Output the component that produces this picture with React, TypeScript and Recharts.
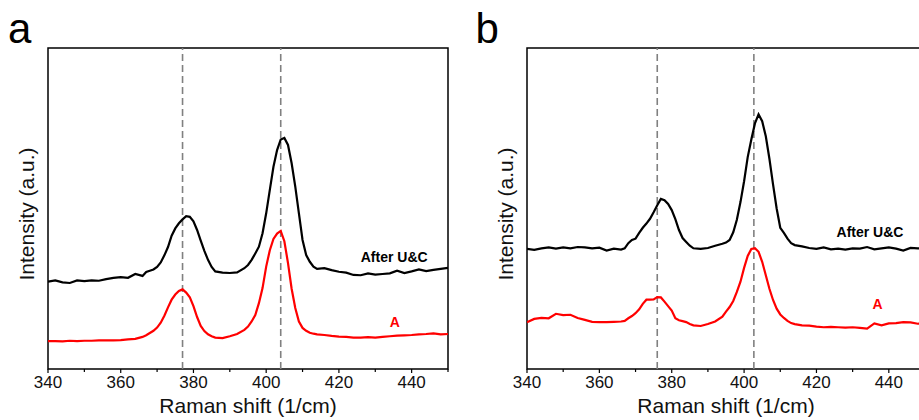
import React from 'react'
import { LineChart, Line, XAxis, YAxis, ReferenceLine, ReferenceArea, ReferenceDot } from 'recharts'

// Raman shift grid shared by both panels (1/cm)
const shift = [
  340, 342, 344, 346, 348, 350, 352, 354, 356, 358, 360, 362, 364, 366,
  367, 368, 369, 370, 371, 372, 373, 374, 375, 376, 377, 378, 379, 380, 381, 382, 383, 384, 385, 386,
  388, 390, 392, 394,
  395, 396, 397, 398, 399, 400, 401, 402, 403, 404, 405, 406, 407, 408, 409, 410, 411, 412, 413, 414,
  416, 418, 420, 422, 424, 426, 428, 430, 432, 434, 436, 438, 440, 442, 444, 446, 448, 450,
]

// panel a
const aAfter = [
  27.2, 27.6, 27.0, 26.8, 27.6, 27.4, 27.6, 27.5, 28.0, 28.4, 28.6, 28.4, 29.6, 29.0,
  30.2, 30.6, 31.0, 31.8, 33.2, 35.4, 38.0, 41.5, 43.8, 45.4, 46.6, 47.6, 47.4, 46.0, 43.3, 40.0, 36.8, 34.0, 31.8, 30.4,
  30.0, 29.9, 30.1, 31.4,
  32.4, 34.0, 36.0, 38.1, 42.3, 48.5, 55.8, 63.0, 68.2, 71.5, 72.0, 69.8, 64.1, 56.8, 48.5, 40.2, 35.5, 33.4, 31.9, 31.2,
  31.4, 30.8, 30.3, 30.0, 29.3, 29.2, 29.8, 29.4, 29.6, 29.8, 30.6, 29.9, 30.4, 31.0, 30.5, 30.9, 31.2, 31.5,
]
const aPristine = [
  8.7, 8.7, 8.6, 8.8, 8.7, 8.8, 8.8, 8.9, 8.9, 8.9, 9.0, 9.2, 9.4, 10.0,
  10.5, 11.2, 11.9, 12.9, 14.4, 16.6, 19.2, 21.6, 23.2, 24.3, 24.8, 23.8, 22.3, 19.6, 16.2, 13.4, 11.8, 10.8, 10.2, 9.8,
  9.6, 10.2, 10.9, 12.2,
  13.2, 14.8, 16.8, 20.5, 25.2, 31.9, 37.0, 40.5, 42.2, 43.0, 39.8, 33.0, 25.0, 19.0, 14.8, 12.8, 11.9, 11.3, 11.0, 10.8,
  10.6, 10.3, 10.1, 10.0, 9.8, 9.8, 9.9, 9.8, 10.0, 10.2, 10.4, 10.5, 10.6, 10.8, 10.9, 11.1, 10.8, 10.9,
]

// panel b
const bAfter = [
  37.4, 37.1, 37.6, 37.9, 37.5, 37.9, 37.6, 38.0, 37.9, 37.6, 37.8, 36.9, 37.5, 37.2,
  37.6, 39.2, 40.2, 40.6, 42.4, 44.0, 45.3, 46.8, 48.8, 51.0, 53.0, 52.6, 51.4, 49.5, 46.7, 43.3, 40.8, 39.6, 38.4, 37.6,
  37.4, 37.7, 38.4, 39.0,
  39.4, 40.2, 42.6, 46.5, 52.0, 58.5, 66.0, 71.5, 76.5, 79.3, 77.2, 72.5, 65.5, 57.5, 50.0, 44.0, 42.4, 40.6, 39.2, 38.6,
  38.2, 37.7, 37.4, 37.9, 37.3, 37.5, 37.2, 37.6, 37.5, 38.0, 37.3, 37.6, 37.9, 37.5, 36.9, 37.7, 37.6, 37.6,
]
const bPristine = [
  14.6, 15.6, 15.9, 15.8, 17.2, 16.8, 16.9, 15.9, 15.3, 14.7, 14.6, 14.6, 14.7, 14.8,
  15.0, 15.8, 16.5, 17.4, 18.6, 20.3, 21.6, 21.6, 21.7, 22.4, 22.3, 21.0, 19.6, 18.2, 15.8, 15.2, 14.9, 14.6, 14.0, 13.6,
  13.4, 14.0, 14.8, 16.3,
  17.9, 19.3, 21.2, 24.0, 27.2, 31.5, 35.2, 37.4, 37.6, 36.5, 33.4, 29.2, 25.0, 21.5, 18.8, 17.0, 15.9, 15.0, 14.3, 14.0,
  13.6, 13.5, 13.2, 13.0, 13.1, 13.0, 12.9, 13.0, 12.8, 12.6, 14.2, 13.6, 14.2, 14.3, 14.6, 14.5, 14.1, 14.3,
]

const xTicks = [340, 350, 360, 370, 380, 390, 400, 410, 420, 430, 440, 450]
const peaksA = [377, 404]
const peaksB = [376, 402.7]

const FONT = '"Liberation Sans", Arial, sans-serif'

function XTick(props: any) {
  const { x, y, payload } = props
  const v = payload.value
  const major = v % 20 === 0
  return (
    <g>
      <line x1={x} x2={x} y1={y} y2={y + (major ? 4 : 3)} stroke="#000" strokeWidth={1.2} />
      {major && v < 450 && (
        <text x={x} y={y + 19} textAnchor="middle" fontSize={17} fill="#111" fontFamily={FONT}>
          {v}
        </text>
      )}
    </g>
  )
}

function XTitle(props: any) {
  const vb = props.viewBox
  return (
    <text x={vb.x + vb.width / 2} y={vb.y + 44} textAnchor="middle" fontSize={21} fill="#111" fontFamily={FONT}>
      Raman shift (1/cm)
    </text>
  )
}

function YTitle(props: any) {
  const vb = props.viewBox
  const cx = vb.x + 26
  const cy = vb.y + vb.height / 2 + 5.5
  return (
    <text
      x={cx}
      y={cy}
      transform={`rotate(-90 ${cx} ${cy})`}
      textAnchor="middle"
      dominantBaseline="central"
      fontSize={21}
      fill="#111"
      fontFamily={FONT}
    >
      Intensity (a.u.)
    </text>
  )
}

function Note(props: any) {
  const { viewBox, text, color } = props
  return (
    <text
      x={viewBox.x}
      y={viewBox.y}
      textAnchor="middle"
      dominantBaseline="central"
      fontSize={14}
      fontWeight="bold"
      fill={color}
      fontFamily={FONT}
    >
      {text}
    </text>
  )
}

interface PanelProps {
  after: number[]
  pristine: number[]
  peaks: number[]
  width: number
  marginLeft: number
  marginRight: number
  notes: { x: number; y: number; text: string; color: string }[]
}

function Panel({ after, pristine, peaks, width, marginLeft, marginRight, notes }: PanelProps) {
  const rows = shift.map((x, i) => ({ x, after: after[i], pristine: pristine[i] }))
  return (
    <LineChart
      width={width}
      height={420}
      data={rows}
      margin={{ top: 48, right: marginRight, left: marginLeft, bottom: 0 }}
    >
      <XAxis
        dataKey="x"
        type="number"
        domain={[340, 450]}
        ticks={xTicks}
        interval={0}
        allowDataOverflow
        axisLine={false}
        tickLine={false}
        tickSize={0}
        tickMargin={0}
        height={51}
        tick={<XTick />}
        label={<XTitle />}
      />
      <YAxis
        type="number"
        domain={[0, 100]}
        allowDataOverflow
        width={48}
        tick={false}
        tickLine={false}
        axisLine={false}
        label={<YTitle />}
      />
      <ReferenceArea x1={340} x2={450} fill="none" stroke="#000" strokeWidth={1.5} fillOpacity={0} />
      {peaks.map((p) => (
        <ReferenceLine key={p} x={p} stroke="#808080" strokeWidth={1.6} strokeDasharray="7 4" />
      ))}
      <Line type="linear" dataKey="after" stroke="#000" strokeWidth={2.2} dot={false} isAnimationActive={false} />
      <Line type="linear" dataKey="pristine" stroke="#ff0000" strokeWidth={2.2} dot={false} isAnimationActive={false} />
      {notes.map((n) => (
        <ReferenceDot
          key={n.text}
          x={n.x}
          y={n.y}
          r={0}
          fill="none"
          stroke="none"
          label={<Note text={n.text} color={n.color} />}
        />
      ))}
    </LineChart>
  )
}

export default function App() {
  return (
    <div
      style={{
        position: 'absolute',
        left: 0,
        top: 0,
        width: 919,
        height: 420,
        overflow: 'hidden',
        background: '#fff',
        fontFamily: FONT,
      }}
    >
      <div style={{ position: 'absolute', left: 0, top: 0 }}>
        <Panel
          after={aAfter}
          pristine={aPristine}
          peaks={peaksA}
          width={460}
          marginLeft={0}
          marginRight={12}
          notes={[
            { x: 435.2, y: 34.9, text: 'After U&C', color: '#000' },
            { x: 435.4, y: 14.6, text: 'A', color: '#ff0000' },
          ]}
        />
      </div>
      <div style={{ position: 'absolute', left: 460, top: 0 }}>
        <Panel
          after={bAfter}
          pristine={bPristine}
          peaks={peaksB}
          width={470}
          marginLeft={19}
          marginRight={5}
          notes={[
            { x: 434.8, y: 42.8, text: 'After U&C', color: '#000' },
            { x: 436.9, y: 20.4, text: 'A', color: '#ff0000' },
          ]}
        />
      </div>
      <svg width={919} height={60} style={{ position: 'absolute', left: 0, top: 0, pointerEvents: 'none' }}>
        <text x={8} y={43} fontSize={42} fill="#000" fontFamily={FONT}>a</text>
        <text x={475.5} y={43} fontSize={42} fill="#000" fontFamily={FONT}>b</text>
      </svg>
    </div>
  )
}
